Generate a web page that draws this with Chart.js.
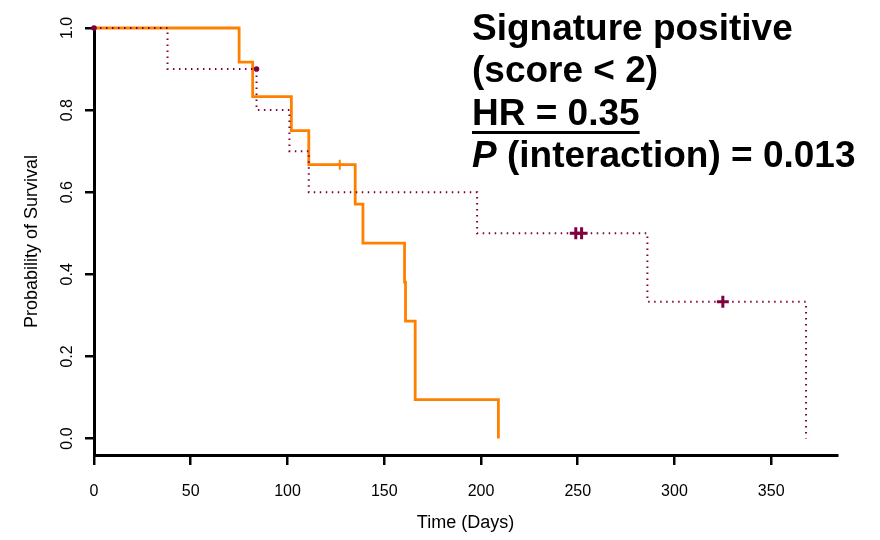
<!DOCTYPE html>
<html>
<head>
<meta charset="utf-8">
<script src="https://cdn.jsdelivr.net/npm/chart.js@4/dist/chart.umd.min.js"></script>
<style>
  body { margin: 0; background: #fff; }
  #wrap { position: relative; width: 880px; height: 540px; }
</style>
</head>
<body>
<div id="wrap"><canvas id="km"></canvas></div>
<script>
// Kaplan-Meier steps: time of each drop and survival after it
const solidDays = [0, 75, 82, 102, 111, 135, 139, 160.5, 161, 166, 209];
const solidSurv = [1, 0.917, 0.833, 0.75, 0.667, 0.571, 0.476, 0.381, 0.286, 0.095, 0];
const solidCensorDays = [127];
const solidCensorSurv = [0.667];

const dottedDays = [0, 38, 84, 101, 111, 198, 286, 368];
const dottedSurv = [1, 0.9, 0.8, 0.7, 0.6, 0.5, 0.333, 0];
const dottedCensorDays = [249, 252, 325];
const dottedCensorSurv = [0.5, 0.5, 0.333];
const dottedDotDays = [0, 84];
const dottedDotSurv = [1, 0.9];

const xTicks = [0, 50, 100, 150, 200, 250, 300, 350];
const yTicks = [0, 0.2, 0.4, 0.6, 0.8, 1.0];
const yTickLabels = ['0.0', '0.2', '0.4', '0.6', '0.8', '1.0'];

const noteTitle = ['Signature positive', '(score < 2)'];
const noteHR = 'HR = 0.35';
const noteP = ['P', ' (interaction) = 0.013'];

const ORANGE = '#ff8000';
const MAROON = '#80003f';
const FONT = '"Liberation Sans", Arial, Helvetica, sans-serif';

const pts = (xs, ys) => xs.map((x, i) => ({ x: x, y: ys[i] }));

// y tick labels are drawn rotated, plus the annotation block on the right
const extrasPlugin = {
    id: 'extras',
    afterDraw(chart) {
        const ctx = chart.ctx;
        const ys = chart.scales.y;
        ctx.save();
        ctx.fillStyle = '#000';
        ctx.font = '16px ' + FONT;
        ctx.textAlign = 'center';
        ctx.textBaseline = 'middle';
        yTicks.forEach((v, i) => {
            const py = ys.getPixelForValue(v);
            ctx.save();
            ctx.translate(ys.right - 26, py);
            ctx.rotate(-Math.PI / 2);
            ctx.fillText(yTickLabels[i], 0, 0);
            ctx.restore();
        });

        const left = 472;
        ctx.textAlign = 'left';
        ctx.textBaseline = 'alphabetic';
        ctx.font = 'bold 37px ' + FONT;
        ctx.fillText(noteTitle[0], left, 39.5);
        ctx.fillText(noteTitle[1], left, 82);
        ctx.fillText(noteHR, left, 124.5);
        const hrW = ctx.measureText(noteHR).width;
        ctx.fillRect(left, 131, hrW, 3);

        ctx.font = 'italic bold 37px ' + FONT;
        ctx.fillText(noteP[0], left, 167);
        const pW = ctx.measureText(noteP[0]).width;
        ctx.font = 'bold 37px ' + FONT;
        ctx.fillText(noteP[1], left + pW, 167);
        ctx.restore();
    }
};

new Chart(document.getElementById('km'), {
    type: 'scatter',
    data: {
        datasets: [
            {
                data: pts(dottedDays, dottedSurv),
                showLine: true,
                stepped: 'before',
                borderColor: MAROON,
                borderWidth: 2,
                borderDash: [1.5, 4.5],
                pointRadius: 0,
                clip: false,
                order: 1,
            },
            {
                data: pts(solidDays, solidSurv),
                showLine: true,
                stepped: 'before',
                borderColor: ORANGE,
                borderWidth: 2.8,
                pointRadius: 0,
                clip: false,
                order: 2,
            },
            {
                data: pts(solidCensorDays, solidCensorSurv),
                pointStyle: 'cross',
                pointRadius: 5,
                borderWidth: 2,
                borderColor: ORANGE,
                clip: false,
                order: 0,
            },
            {
                data: pts(dottedCensorDays, dottedCensorSurv),
                pointStyle: 'cross',
                pointRadius: 6,
                borderWidth: 3,
                borderColor: MAROON,
                clip: false,
                order: 0,
            },
            {
                data: pts(dottedDotDays, dottedDotSurv),
                pointStyle: 'circle',
                pointRadius: 2.8,
                borderWidth: 0,
                backgroundColor: MAROON,
                clip: false,
                order: 0,
            },
        ],
    },
    options: {
        responsive: true,
        maintainAspectRatio: false,
        animation: false,
        events: [],
        layout: {
            padding: { top: 28, right: 43, bottom: 6, left: 21 },
        },
        plugins: {
            legend: { display: false },
            tooltip: { enabled: false },
        },
        scales: {
            x: {
                type: 'linear',
                min: 0,
                max: 384,
                afterBuildTicks: scale => {
                    scale.ticks = xTicks.map(v => ({ value: v }));
                },
                afterFit: scale => { scale.height = 79; },
                grid: {
                    drawOnChartArea: false,
                    drawTicks: true,
                    tickLength: 10,
                    color: '#000',
                    lineWidth: 2.5,
                },
                border: { display: true, color: '#000', width: 3 },
                ticks: {
                    color: '#000',
                    padding: 17,
                    maxRotation: 0,
                    font: { family: FONT, size: 16 },
                    callback: v => String(v),
                },
                title: {
                    display: true,
                    text: 'Time (Days)',
                    color: '#000',
                    padding: 0,
                    font: { family: FONT, size: 18 },
                },
            },
            y: {
                type: 'linear',
                min: -0.04,
                max: 1.0,
                afterBuildTicks: scale => {
                    scale.ticks = yTicks.map(v => ({ value: v }));
                },
                afterFit: scale => { scale.width = 73; },
                grid: {
                    drawOnChartArea: false,
                    drawTicks: true,
                    tickLength: 9,
                    color: '#000',
                    lineWidth: 2.5,
                },
                border: { display: true, color: '#000', width: 3 },
                ticks: { display: false },
                title: {
                    display: true,
                    text: 'Probability of Survival',
                    color: '#000',
                    padding: 0,
                    font: { family: FONT, size: 18 },
                },
            },
        },
    },
    plugins: [extrasPlugin],
});
</script>
</body>
</html>
